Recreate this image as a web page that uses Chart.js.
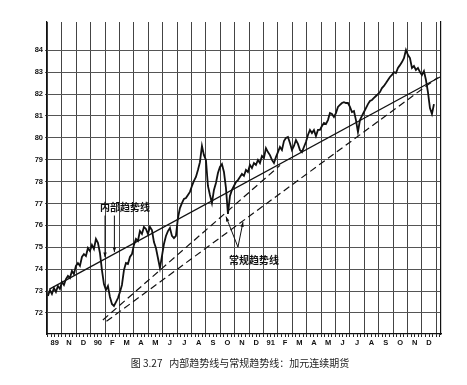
<!DOCTYPE html>
<html lang="zh">
<head>
  <meta charset="UTF-8">
  <title>内部趋势线与常规趋势线：加元连续期货</title>
  <style>
    body {
      margin: 0;
      background: #fff;
      width: 467px;
      height: 385px;
      overflow: hidden;
      position: relative;
    }
    #wrap {
      position: absolute;
      left: 0;
      top: 0;
      width: 467px;
      height: 385px;
    }
    #caption {
      position: absolute;
      left: 0;
      top: 355px;
      width: 480px;
      text-align: center;
      font-family: "Noto Sans CJK SC", sans-serif;
      font-size: 10px;
      color: #222;
      white-space: pre;
    }
  </style>
  <script src="https://cdn.jsdelivr.net/npm/chart.js"></script>
</head>
<body>
  <div id="wrap"><canvas id="chart"></canvas></div>
  <div id="caption">图 3.27   内部趋势线与常规趋势线：加元连续期货</div>

  <script>
    // x axis runs in months, 0 = start of Oct 1989
    const monthLabels = ['89', 'N', 'D', '90', 'F', 'M', 'A', 'M', 'J', 'J', 'A', 'S', 'O', 'N', 'D',
                         '91', 'F', 'M', 'A', 'M', 'J', 'J', 'A', 'S', 'O', 'N', 'D'];
    const yTicks = [72, 73, 74, 75, 76, 77, 78, 79, 80, 81, 82, 83, 84];

    // price, one value about every 4 days
    const priceStart = 0.035;
    const priceStep = 5 / 36;
    const priceValues = [
      72.78, 73.05, 72.87, 73.14, 72.96, 73.23, 73.10, 73.42, 73.28, 73.55,
      73.69, 73.60, 73.92, 73.78, 74.15, 74.28, 74.15, 74.56, 74.69, 74.60,
      74.97, 74.83, 75.11, 74.92, 75.38, 75.20, 74.74, 73.96, 73.32, 73.05,
      73.23, 72.73, 72.41, 72.32, 72.50, 72.68, 72.96, 73.28, 73.96, 74.28,
      74.24, 74.56, 74.69, 75.11, 75.38, 75.29, 75.74, 75.61, 75.93, 75.84,
      75.61, 75.93, 75.79, 75.24, 74.97, 74.51, 74.05, 74.60, 75.15, 75.52,
      75.74, 75.88, 75.52, 75.42, 75.52, 76.34, 76.79, 77.02, 77.21, 77.25,
      77.39, 77.53, 77.80, 78.03, 78.21, 78.53, 78.89, 79.63, 79.21, 78.99,
      77.80, 77.39, 77.02, 77.62, 77.94, 78.39, 78.67, 78.80, 78.44, 77.71,
      76.52, 77.34, 77.62, 77.80, 77.98, 78.07, 78.21, 78.35, 78.26, 78.53,
      78.44, 78.76, 78.62, 78.85, 78.76, 78.99, 78.85, 79.17, 79.08, 79.53,
      79.35, 79.21, 78.99, 78.85, 79.12, 79.35, 79.58, 79.44, 79.85, 79.99,
      80.04, 79.76, 79.44, 79.63, 79.90, 79.72, 79.44, 79.35, 79.58, 79.81,
      80.13, 80.36, 80.22, 80.36, 80.08, 80.36, 80.36, 80.54, 80.68, 80.63,
      80.81, 81.13, 81.09, 80.95, 81.13, 81.41, 81.50, 81.59, 81.63, 81.59,
      81.59, 81.41, 81.18, 81.22, 80.81, 80.26, 80.81, 81.00, 81.18, 81.36,
      81.54, 81.68, 81.73, 81.82, 81.91, 82.00, 82.09, 82.27, 82.37, 82.50,
      82.64, 82.78, 82.87, 83.00, 82.96, 83.19, 83.32, 83.46, 83.64, 84.01,
      83.78, 83.64, 83.19, 83.28, 83.10, 83.19, 83.00, 82.87, 83.05, 82.64,
      82.09, 81.36, 81.09, 81.54
    ];

    // trendlines: [month, price] at both ends
    const internalLine = [[0.17, 73.10], [27.26, 82.78]];
    const conventionalLine1 = [[3.85, 71.68], [16.15, 78.74]];
    const conventionalLine2 = [[4.10, 71.62], [27.10, 82.75]];

    // callout texts and their pointers, [month, price]
    const noteTexts = [
      { text: '内部趋势线', at: [5.39, 76.84] },
      { text: '常规趋势线', at: [14.34, 74.42] }
    ];
    const notePointers = [
      { from: [4.00, 76.45], to: [4.00, 74.55], head: true },
      { from: [4.65, 76.45], to: [4.65, 74.78], head: true },
      { from: [13.23, 75.01], to: [12.40, 76.40], head: true },
      { from: [13.23, 75.01], to: [13.58, 76.15], head: true }
    ];

    const toPoints = pairs => pairs.map(p => ({ x: p[0], y: p[1] }));

    const notePlugin = {
      id: 'notes',
      afterDatasetsDraw(chart) {
        const { ctx, scales: { x, y } } = chart;
        ctx.save();
        ctx.fillStyle = '#111';
        ctx.strokeStyle = '#111';
        ctx.lineWidth = 1;
        ctx.font = 'bold 10px "Noto Sans CJK SC"';
        ctx.textAlign = 'center';
        ctx.textBaseline = 'middle';
        noteTexts.forEach(n => {
          ctx.fillText(n.text, x.getPixelForValue(n.at[0]), y.getPixelForValue(n.at[1]));
        });
        notePointers.forEach(p => {
          const x1 = x.getPixelForValue(p.from[0]), y1 = y.getPixelForValue(p.from[1]);
          const x2 = x.getPixelForValue(p.to[0]), y2 = y.getPixelForValue(p.to[1]);
          ctx.beginPath();
          ctx.moveTo(x1, y1);
          ctx.lineTo(x2, y2);
          ctx.stroke();
          if (p.head) {
            const a = Math.atan2(y2 - y1, x2 - x1);
            ctx.beginPath();
            ctx.moveTo(x2, y2);
            ctx.lineTo(x2 - 5 * Math.cos(a - 0.35), y2 - 5 * Math.sin(a - 0.35));
            ctx.lineTo(x2 - 5 * Math.cos(a + 0.35), y2 - 5 * Math.sin(a + 0.35));
            ctx.closePath();
            ctx.fill();
          }
        });
        ctx.restore();
      }
    };

    const isWhole = v => Math.abs(v - Math.round(v)) < 1e-6;
    const tickFont = { family: 'Liberation Sans', size: 7.5, weight: 'bold' };

    new Chart(document.getElementById('chart'), {
      type: 'line',
      data: {
        datasets: [
          {
            label: 'price',
            data: priceValues.map((v, i) => ({ x: priceStart + i * priceStep, y: v })),
            borderColor: '#111',
            borderWidth: 1.8,
            pointRadius: 0,
            tension: 0
          },
          {
            label: 'internal',
            data: toPoints(internalLine),
            borderColor: '#111',
            borderWidth: 1.3,
            pointRadius: 0
          },
          {
            label: 'conventional 1',
            data: toPoints(conventionalLine1),
            borderColor: '#111',
            borderWidth: 1.2,
            borderDash: [7, 4],
            pointRadius: 0
          },
          {
            label: 'conventional 2',
            data: toPoints(conventionalLine2),
            borderColor: '#111',
            borderWidth: 1.2,
            borderDash: [7, 4],
            pointRadius: 0
          }
        ]
      },
      options: {
        responsive: true,
        maintainAspectRatio: false,
        animation: false,
        layout: { padding: { left: 30, right: 26, top: 22, bottom: 35 } },
        plugins: { legend: { display: false }, tooltip: { enabled: false } },
        scales: {
          x: {
            type: 'linear',
            min: -0.03,
            max: 27.33,
            afterBuildTicks: scale => {
              const t = [];
              for (let i = 0; i <= 109; i++) t.push({ value: i / 4 });
              scale.ticks = t;
            },
            afterFit: scale => { scale.height = 16; },
            ticks: {
              autoSkip: false,
              maxRotation: 0,
              padding: 1,
              color: '#111',
              font: tickFont,
              callback: (value, index) => (index % 4 === 2 ? monthLabels[(index - 2) / 4] : '')
            },
            grid: {
              color: c => (c.tick && isWhole(c.tick.value) ? '#444' : 'rgba(0,0,0,0)'),
              tickColor: '#222',
              tickLength: 3,
              lineWidth: 1
            },
            border: { color: '#111', width: 1.2 }
          },
          y: {
            type: 'linear',
            min: 71.04,
            max: 85.29,
            afterBuildTicks: scale => { scale.ticks = yTicks.map(v => ({ value: v })); },
            afterFit: scale => { scale.width = 17; },
            ticks: { color: '#111', font: tickFont, padding: 2 },
            grid: { color: '#555', tickLength: 2, lineWidth: 1 },
            border: { color: '#111', width: 1.2 }
          },
          yr: {
            position: 'right',
            afterFit: scale => { scale.width = 0; },
            ticks: { display: false },
            grid: { display: false },
            border: { color: '#111', width: 1.2 }
          }
        }
      },
      plugins: [notePlugin]
    });
  </script>
</body>
</html>
